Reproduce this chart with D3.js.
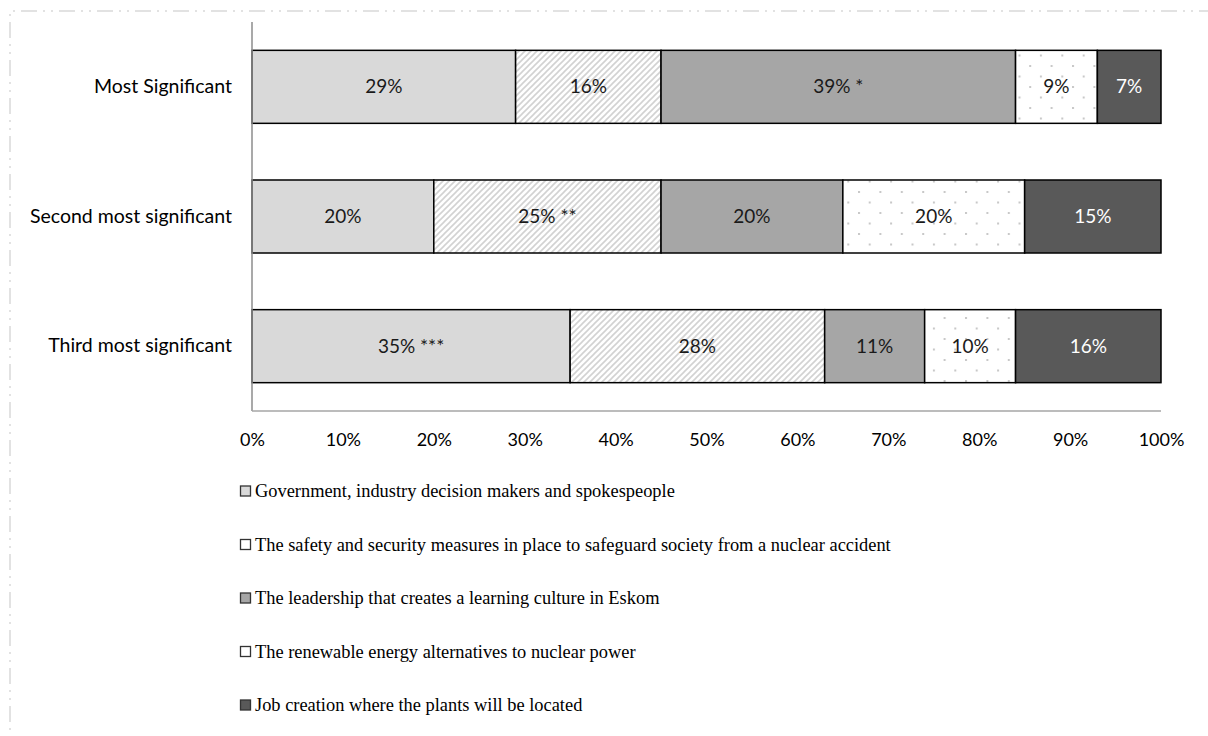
<!DOCTYPE html>
<html>
<head>
<meta charset="utf-8">
<script src="https://cdn.jsdelivr.net/npm/d3@7"></script>
<style>
  html, body { margin: 0; padding: 0; background: #fff; }
  svg { display: block; }
</style>
</head>
<body>
<svg id="chart" width="1208" height="736"></svg>
<script>
// Ranking of factors, share of respondents per rank
const categories = ["Most Significant", "Second most significant", "Third most significant"];
const seriesNames = [
  "Government, industry decision makers and spokespeople",
  "The safety and security measures in place to safeguard society from a nuclear accident",
  "The leadership that creates a learning culture in Eskom",
  "The renewable energy alternatives to nuclear power",
  "Job creation where the plants will be located"
];
const government = [29, 20, 35];
const safety     = [16, 25, 28];
const leadership = [39, 20, 11];
const renewable  = [9, 20, 10];
const jobs       = [7, 15, 16];
// significance markers appended to some value labels
const governmentMarks = ["", "", " ***"];
const safetyMarks     = ["", " **", ""];
const leadershipMarks = [" *", "", ""];
const renewableMarks  = ["", "", ""];
const jobsMarks       = ["", "", ""];
const tickValues = [0, 10, 20, 30, 40, 50, 60, 70, 80, 90, 100];

const seriesValues = [government, safety, leadership, renewable, jobs];
const seriesMarks = [governmentMarks, safetyMarks, leadershipMarks, renewableMarks, jobsMarks];

const svg = d3.select("#chart");
const defs = svg.append("defs");

// diagonal hatch
const hatch = defs.append("pattern")
  .attr("id", "hatch").attr("patternUnits", "userSpaceOnUse")
  .attr("width", 6).attr("height", 6);
hatch.append("rect").attr("width", 6).attr("height", 6).attr("fill", "#fff");
hatch.append("path")
  .attr("d", "M-1,1 l2,-2 M0,6 l6,-6 M5,7 l2,-2")
  .attr("stroke", "#d2d2d2").attr("stroke-width", 1.6);

// staggered dots
const dots = defs.append("pattern")
  .attr("id", "dots").attr("patternUnits", "userSpaceOnUse")
  .attr("width", 21.4).attr("height", 21).attr("x", 2).attr("y", 2);
dots.append("rect").attr("width", 21.4).attr("height", 21).attr("fill", "#fff");
dots.append("rect").attr("x", 0).attr("y", 0).attr("width", 2).attr("height", 2).attr("fill", "#c8c8c8");
dots.append("rect").attr("x", 10.7).attr("y", 10.5).attr("width", 2).attr("height", 2).attr("fill", "#c8c8c8");

const fills = ["#d9d9d9", "url(#hatch)", "#a6a6a6", "url(#dots)", "#595959"];
const legendFills = ["#d9d9d9", "#ffffff", "#a6a6a6", "#ffffff", "#595959"];
const labelColors = ["#1a1a1a", "#1a1a1a", "#1a1a1a", "#1a1a1a", "#ffffff"];

// outer frame, dash-dot-dot
svg.append("path")
  .attr("d", "M10,760 L10,11 L1230,11")
  .attr("fill", "none")
  .attr("stroke", "#d9d9d9")
  .attr("stroke-width", 1.5)
  .attr("stroke-dasharray", "16,6,2,6,2,6");

const x = d3.scaleLinear().domain([0, 100]).range([252, 1161]);
const y = d3.scaleBand().domain(categories).range([22, 411]).paddingInner(0.437).paddingOuter(0.2185);

// stacked layout
const rows = categories.map((c, i) => {
  let acc = 0;
  return seriesValues.map((vals, s) => {
    const seg = { cat: c, s, v: vals[i], x0: acc, x1: acc + vals[i], mark: seriesMarks[s][i] };
    acc += vals[i];
    return seg;
  });
});
const segments = rows.flat();

const fontSans = "Lato, 'Open Sans', sans-serif";

const barG = svg.append("g");
barG.selectAll("rect.seg")
  .data(segments)
  .join("rect")
  .attr("class", "seg")
  .attr("x", d => x(d.x0))
  .attr("y", d => y(d.cat))
  .attr("width", d => x(d.x1) - x(d.x0))
  .attr("height", y.bandwidth())
  .attr("fill", d => fills[d.s])
  .attr("stroke", "#000")
  .attr("stroke-width", 1.5);

barG.selectAll("text.val")
  .data(segments)
  .join("text")
  .attr("class", "val")
  .attr("x", d => (x(d.x0) + x(d.x1)) / 2)
  .attr("y", d => y(d.cat) + y.bandwidth() / 2)
  .attr("dy", "0.35em")
  .attr("text-anchor", "middle")
  .attr("font-family", fontSans)
  .attr("font-size", 19)
  .attr("fill", d => labelColors[d.s])
  .text(d => d.v + "%" + d.mark);

// axes
svg.append("line")
  .attr("x1", x(0)).attr("x2", x(0))
  .attr("y1", 22).attr("y2", 411)
  .attr("stroke", "#8c8c8c").attr("stroke-width", 1.5);
svg.append("line")
  .attr("x1", x(0)).attr("x2", x(100))
  .attr("y1", 411).attr("y2", 411)
  .attr("stroke", "#a6a6a6").attr("stroke-width", 1.5);

const xAxis = svg.append("g")
  .attr("transform", "translate(0,411)")
  .call(d3.axisBottom(x).tickValues(tickValues).tickFormat(d => d + "%").tickSize(0).tickPadding(22));
xAxis.select(".domain").remove();
xAxis.selectAll("text")
  .attr("font-family", fontSans)
  .attr("font-size", 18)
  .attr("fill", "#000");

const yAxis = svg.append("g")
  .attr("transform", `translate(${x(0)},0)`)
  .call(d3.axisLeft(y).tickSize(0).tickPadding(20));
yAxis.select(".domain").remove();
yAxis.selectAll("text")
  .attr("font-family", fontSans)
  .attr("font-size", 19.5)
  .attr("fill", "#000");

// legend, set in a serif face
const legend = svg.append("g");
const item = legend.selectAll("g.item")
  .data(seriesNames)
  .join("g")
  .attr("class", "item")
  .attr("transform", (d, i) => `translate(240,${491 + i * 53.5})`);
item.append("rect")
  .attr("x", 0.5).attr("y", -5).attr("width", 10).attr("height", 10)
  .attr("fill", (d, i) => legendFills[i])
  .attr("stroke", "#333").attr("stroke-width", 1.3);
item.append("text")
  .attr("x", 15)
  .attr("dy", "0.33em")
  .attr("font-family", "Liberation Serif, DejaVu Serif, serif")
  .attr("font-size", 18.4)
  .attr("fill", "#000")
  .text(d => d);
</script>
</body>
</html>
